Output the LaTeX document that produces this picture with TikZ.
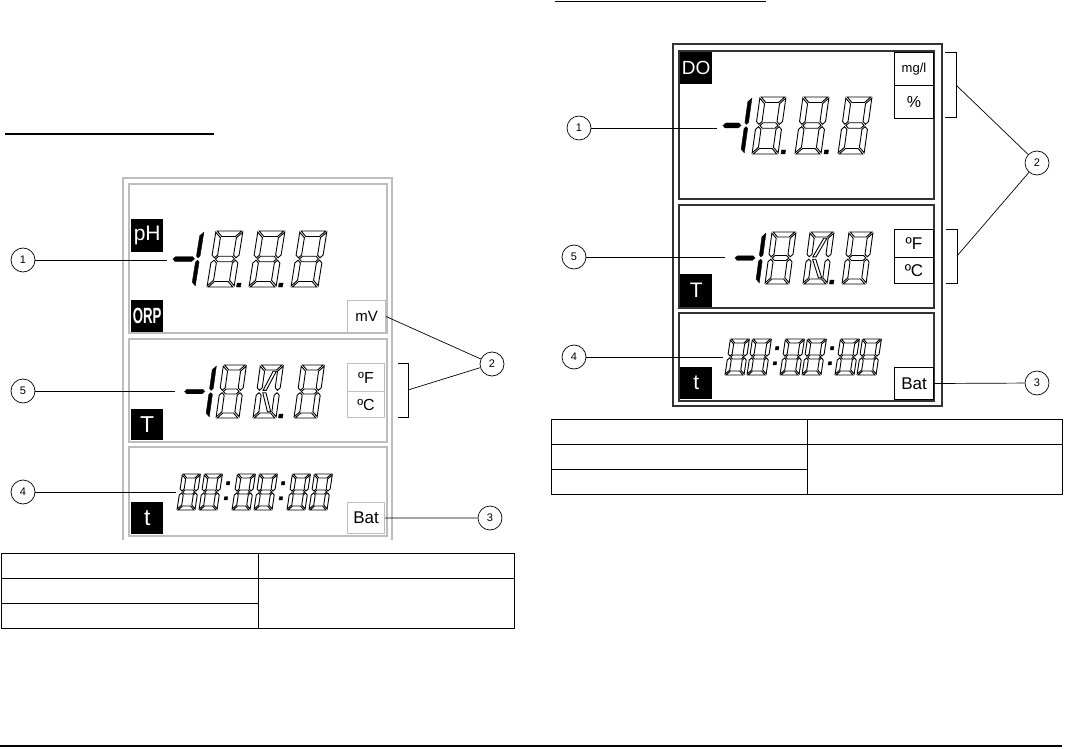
\documentclass[tikz,border=0pt]{standalone}
\usepackage{fontspec}
\usepackage{graphicx}
\setmainfont{Liberation Sans}
\definecolor{lgray}{HTML}{BDBDBD}
\definecolor{dgray}{HTML}{333333}
\newcommand\fsz[1]{\fontsize{#1}{#1}\selectfont}
% seven-segment machinery
\def\sgW{26}\def\sgH{55}\def\sgT{5.5}\def\sgG{1.2}
\newcommand\sgA[1][seg]{\path[#1] ({\sgG},{\sgH}) -- ({\sgW-\sgG},{\sgH}) -- ({\sgW-\sgG-\sgT},{\sgH-\sgT}) -- ({\sgG+\sgT},{\sgH-\sgT}) -- cycle;}
\newcommand\sgD[1][seg]{\path[#1] ({\sgG},0) -- ({\sgW-\sgG},0) -- ({\sgW-\sgG-\sgT},{\sgT}) -- ({\sgG+\sgT},{\sgT}) -- cycle;}
\newcommand\sgB[1][seg]{\path[#1] ({\sgW},{\sgH-\sgG}) -- ({\sgW},{\sgH/2+\sgG+\sgT/2}) -- ({\sgW-\sgT/2},{\sgH/2+\sgG}) -- ({\sgW-\sgT},{\sgH/2+\sgG+\sgT/2}) -- ({\sgW-\sgT},{\sgH-\sgG-\sgT}) -- cycle;}
\newcommand\sgC[1][seg]{\path[#1] ({\sgW},{\sgG}) -- ({\sgW},{\sgH/2-\sgG-\sgT/2}) -- ({\sgW-\sgT/2},{\sgH/2-\sgG}) -- ({\sgW-\sgT},{\sgH/2-\sgG-\sgT/2}) -- ({\sgW-\sgT},{\sgG+\sgT}) -- cycle;}
\newcommand\sgE[1][seg]{\path[#1] (0,{\sgG}) -- (0,{\sgH/2-\sgG-\sgT/2}) -- ({\sgT/2},{\sgH/2-\sgG}) -- ({\sgT},{\sgH/2-\sgG-\sgT/2}) -- ({\sgT},{\sgG+\sgT}) -- cycle;}
\newcommand\sgF[1][seg]{\path[#1] (0,{\sgH-\sgG}) -- (0,{\sgH/2+\sgG+\sgT/2}) -- ({\sgT/2},{\sgH/2+\sgG}) -- ({\sgT},{\sgH/2+\sgG+\sgT/2}) -- ({\sgT},{\sgH-\sgG-\sgT}) -- cycle;}
\newcommand\sgM[1][seg]{\path[#1] ({\sgG+\sgT/2},{\sgH/2}) -- ({\sgG+\sgT},{\sgH/2+\sgT/2}) -- ({\sgW-\sgG-\sgT},{\sgH/2+\sgT/2}) -- ({\sgW-\sgG-\sgT/2},{\sgH/2}) -- ({\sgW-\sgG-\sgT},{\sgH/2-\sgT/2}) -- ({\sgG+\sgT},{\sgH/2-\sgT/2}) -- cycle;}
\newcommand\sgU[1][seg]{\path[#1] ({\sgT+\sgG},{\sgH/2+\sgG}) -- ({\sgT+\sgG+3.2},{\sgH/2+\sgG}) -- ({\sgW-\sgT-\sgG},{\sgH-\sgT-\sgG}) -- ({\sgW-\sgT-\sgG-3.2},{\sgH-\sgT-\sgG}) -- cycle;}
\newcommand\sgL[1][seg]{\path[#1] ({\sgT+\sgG},{\sgH/2-\sgG}) -- ({\sgT+\sgG+3.2},{\sgH/2-\sgG}) -- ({\sgW-\sgT-\sgG},{\sgT+\sgG}) -- ({\sgW-\sgT-\sgG-3.2},{\sgT+\sgG}) -- cycle;}
\newcommand\digEight[1]{\begin{scope}[xshift=#1]\sgA\sgB\sgC\sgD\sgE\sgF\sgM\end{scope}}
\newcommand\digSlash[1]{\begin{scope}[xshift=#1]\sgA\sgB\sgC\sgD\sgE\sgF\sgU\sgL\end{scope}}
\newcommand\digOne[1]{\begin{scope}[xshift=#1]\def\sgW{3.6}\def\sgT{3.6}\sgB[segk]\sgC[segk]\end{scope}}
\newcommand\digMinus[3]{\path[segk] (#1,{\sgH/2}) -- ({#1+#3/2},{\sgH/2+#3/2}) -- ({#2-#3/2},{\sgH/2+#3/2}) -- (#2,{\sgH/2}) -- ({#2-#3/2},{\sgH/2-#3/2}) -- ({#1+#3/2},{\sgH/2-#3/2}) -- cycle;}
\newcommand\digDot[2]{\path[segk] (#1,0) rectangle ({#1+#2},#2);}
\newcommand\digColon[1]{\path[segk] (#1,{0.28*\sgH}) rectangle ({#1+3.2},{0.28*\sgH+3.2}); \path[segk] (#1,{0.70*\sgH}) rectangle ({#1+3.2},{0.70*\sgH+3.2});}
\begin{document}
\begin{tikzpicture}[x=1pt,y=-1pt,
  seg/.style={draw=black, line width=0.9pt, fill=white, line join=miter},
  segk/.style={draw=black, fill=black, line width=0.4pt},
  lbl/.style={fill=black, text=white, inner sep=0pt, anchor=north west},
  gbox/.style={draw=lgray, line width=1.1pt, fill=white, inner sep=0pt, anchor=north west},
  kbox/.style={draw=black, line width=1pt, fill=white, inner sep=0pt, anchor=north west},
  num/.style={circle, draw=black, line width=0.7pt, minimum size=24pt, inner sep=0pt, font=\fsz{11}},
  lead/.style={draw=black, line width=0.7pt},
  gpanel/.style={draw=lgray, line width=1.4pt},
  kpanel/.style={draw=dgray, line width=1.5pt},
  tbl/.style={draw=black, line width=1pt}]
\useasboundingbox (0,0) rectangle (1066,749);

% ---------------- rules ----------------
\draw[line width=1.2pt] (5,134) -- (214,134);
\draw[line width=1.2pt] (555,1.5) -- (766,1.5);
\draw[line width=1.2pt] (0,746) -- (1062,746);

% ---------------- left display ----------------
\draw[gpanel] (123,540) -- (123,178) -- (392,178) -- (392,540);
\draw[gpanel] (129,184) rectangle (387,333);
\draw[gpanel] (129,339) rectangle (387,442);
\draw[gpanel] (129,447) rectangle (387,536);

\node[lbl, minimum width=32pt, minimum height=33pt, font=\fsz{21}] (ph) at (131,219) {pH};
\node[lbl, minimum width=32pt, minimum height=32pt, font=\fsz{22}\bfseries] (orp) at (131,300) {\scalebox{0.6}[1]{ORP}};
\node[gbox, minimum width=38pt, minimum height=32pt, font=\fsz{15}] (mv) at (347,300) {mV};
\node[gbox, minimum width=37pt, minimum height=28pt, font=\fsz{16}] (lf) at (347,363) {ºF};
\node[gbox, minimum width=37pt, minimum height=26pt, font=\fsz{16}] (lc) at (347,391) {ºC};
\node[lbl, minimum width=32pt, minimum height=31pt, font=\fsz{23}] (lT) at (131,409) {T};
\node[lbl, minimum width=32pt, minimum height=32pt, font=\fsz{23}] (lt) at (131,502) {t};
\node[gbox, minimum width=37pt, minimum height=31pt, font=\fsz{17}] (lbat) at (347,502) {Bat};

% pH digits
\begin{scope}[shift={(0,287)}, y={(0pt,1pt)}, xslant=0.16]
  \def\sgW{27}\def\sgH{56}\def\sgT{5.5}
  \digMinus{168.5}{190}{5}
  \digOne{191.5}
  \digEight{207}\digDot{236.5}{4}
  \digEight{249}\digDot{278.5}{4}
  \digEight{291}
\end{scope}
% T digits
\begin{scope}[shift={(0,418)}, y={(0pt,1pt)}, xslant=0.14]
  \def\sgW{23}\def\sgH{53}\def\sgT{5}
  \digMinus{181}{201}{4.5}
  \digOne{205.5}
  \digEight{216}
  \digSlash{253}\digDot{278.5}{4}
  \digEight{294}
\end{scope}
% time digits
\begin{scope}[shift={(0,510)}, y={(0pt,1pt)}, xslant=0.15]
  \def\sgW{18}\def\sgH{36}\def\sgT{4}\def\sgG{1}
  \digEight{177}\digEight{199}\digColon{222.5}
  \digEight{232}\digEight{254}\digColon{277.5}
  \digEight{287}\digEight{309}
\end{scope}

% left callouts
\node[num] (c1) at (23,260) {1};
\node[num] (c2) at (492,364) {2};
\node[num] (c3) at (490,518) {3};
\node[num] (c4) at (23,492) {4};
\node[num] (c5) at (23,391) {5};
\coordinate (e1) at (167,260);
\coordinate (e5) at (175,391);
\coordinate (e4) at (176,492);
\coordinate (lbr) at (408,390);
\draw[lead] (c1) -- (e1);
\draw[lead] (c5) -- (e5);
\draw[lead] (c4) -- (e4);
\draw[lead] (mv.east) -- (c2);
\draw[lead] (398,363) -- (408,363) -- (408,417) -- (398,417);
\draw[lead] (lbr) -- (c2);
\draw[lead] (lbat.east) -- (c3);

% left table
\draw[tbl] (1,553) rectangle (514,628);
\draw[tbl] (258,553) -- (258,628);
\draw[tbl] (1,578) -- (514,578);
\draw[tbl] (1,603) -- (258,603);

% ---------------- right display ----------------
\draw[kpanel] (673,44) rectangle (942,406);
\draw[kpanel] (679,51) rectangle (934,199);
\draw[kpanel] (679,205) rectangle (934,308);
\draw[kpanel] (679,313) rectangle (934,401);

\node[lbl, minimum width=32pt, minimum height=32pt, font=\fsz{19}] (do) at (680,52) {DO};
\node[kbox, minimum width=39pt, minimum height=33pt, font=\fsz{13}] (mgl) at (894,52) {mg/l};
\node[kbox, minimum width=39pt, minimum height=33pt, font=\fsz{16}] (pct) at (894,85) {\%};
\node[kbox, minimum width=39pt, minimum height=28pt, font=\fsz{17}] (rf) at (894,229) {ºF};
\node[kbox, minimum width=39pt, minimum height=26pt, font=\fsz{17}] (rc) at (894,257) {ºC};
\node[lbl, minimum width=32pt, minimum height=33pt, font=\fsz{21}] (rT) at (680,274) {T};
\node[lbl, minimum width=32pt, minimum height=32pt, font=\fsz{21}] (rt) at (680,367) {t};
\node[kbox, minimum width=39pt, minimum height=32pt, font=\fsz{17}] (rbat) at (894,367) {Bat};

% DO digits
\begin{scope}[shift={(0,154)}, y={(0pt,1pt)}, xslant=0.14]
  \def\sgW{26}\def\sgH{57}\def\sgT{5.5}
  \digMinus{719}{737}{5}
  \digOne{740.5}
  \digEight{752}\digDot{781}{4}
  \digEight{795}\digDot{824}{4}
  \digEight{838}
\end{scope}
% T digits
\begin{scope}[shift={(0,284)}, y={(0pt,1pt)}, xslant=0.135]
  \def\sgW{24}\def\sgH{52}\def\sgT{5}
  \digMinus{731.5}{751.5}{4.5}
  \digOne{755.5}
  \digEight{765}
  \digSlash{803}\digDot{829.5}{4}
  \digEight{842}
\end{scope}
% time digits
\begin{scope}[shift={(0,375)}, y={(0pt,1pt)}, xslant=0.15]
  \def\sgW{19}\def\sgH{36}\def\sgT{4}\def\sgG{1}
  \digEight{725}\digEight{747}\digColon{771.5}
  \digEight{780}\digEight{802}\digColon{826.5}
  \digEight{835}\digEight{857}
\end{scope}

% right callouts
\node[num] (r1) at (579,128) {1};
\node[num] (r2) at (1037,163) {2};
\node[num] (r3) at (1037,383) {3};
\node[num] (r4) at (574,357) {4};
\node[num] (r5) at (574,257) {5};
\coordinate (f1) at (717,128);
\coordinate (f5) at (725,257);
\coordinate (f4) at (723,357);
\coordinate (rbu) at (956,85);
\coordinate (rbl) at (957,256);
\draw[lead] (r1) -- (f1);
\draw[lead] (r5) -- (f5);
\draw[lead] (r4) -- (f4);
\draw[lead] (945,52) -- (956,52) -- (956,117) -- (945,117);
\draw[lead] (946,229) -- (957,229) -- (957,283) -- (946,283);
\draw[lead] (rbu) -- (r2);
\draw[lead] (rbl) -- (r2);
\draw[lead] (rbat.east) -- (r3);

% right table
\draw[tbl] (551,419) rectangle (1062,494);
\draw[tbl] (807,419) -- (807,494);
\draw[tbl] (551,444) -- (1062,444);
\draw[tbl] (551,469) -- (807,469);
\end{tikzpicture}
\end{document}
